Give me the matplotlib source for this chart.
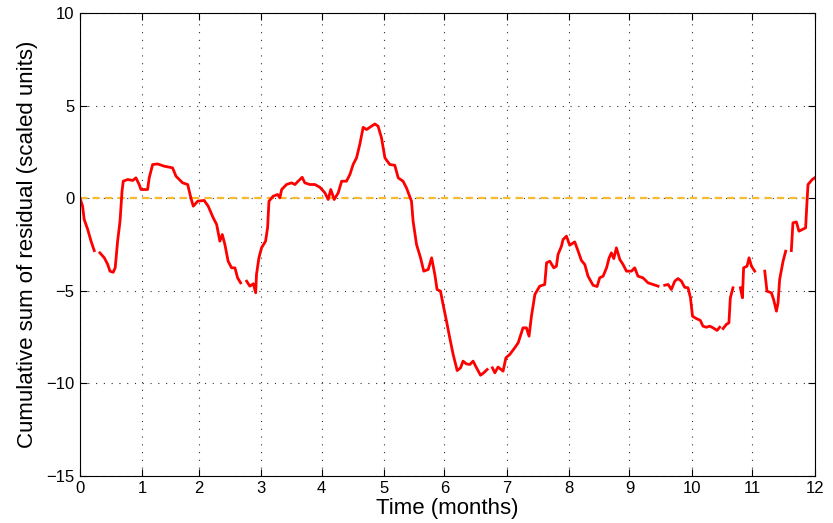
import numpy as np
import matplotlib
matplotlib.use('Agg')
import matplotlib.pyplot as plt

plt.rcParams['font.family'] = ['Liberation Sans', 'DejaVu Sans']

# month boundaries in days (tick positions), labelled 0..12
month_days = [0, 31, 59, 90, 120, 151, 181, 212, 243, 273, 304, 334, 365]
month_labels = [str(i) for i in range(13)]

# cumulative residual (day, value); nan = gap in record
days = [0.0, 1.3, 2.1, 3.8, 5.5, 7.1, 8.5, 9.9, 12.1, 13.8, 14.9, 16.5, 17.5, 18.7, 19.9,
        20.9, 21.5, 23.7, 26.2, 27.8, 29.4, 30.3, 33.6, 34.4, 36.1, 38.6, 41.9, 46.0, 47.7,
        51.0, 53.5, 55.1, 56.3, 58.5, 61.7, 63.7, 66.2, 67.9, 69.5, 70.7, 72.0, 73.6, 75.3,
        77.0, 78.3, 79.8, 81.5, 82.8, 84.4, 86.1, 87.3, 87.7, 88.9, 90.2, 92.2, 93.2, 93.9,
        96.0, 98.2, 99.3, 100.2, 102.6, 105.1, 106.8, 108.4, 110.4, 111.7, 114.2, 116.7,
        119.2, 121.7, 123.3, 124.6, 126.3, 128.3, 130.0, 132.4, 134.1, 135.7, 137.4, 139.0,
        140.7, 142.4, 144.0, 146.5, 148.1, 149.8, 151.5, 153.9, 156.4, 158.1, 160.5, 162.2,
        164.7, 165.5, 167.2, 169.2, 170.8, 173.0, 174.7, 176.3, 177.4, 179.1, 180.4, 182.1,
        183.7, 185.4, 187.4, 189.1, 190.3, 192.0, 193.7, 195.3, 197.0, 199.0, 200.6, 202.3,
        203.5, 204.9, 206.1, 207.7, 210.2, 211.6, 213.5, 216.0, 217.7, 220.1, 221.8, 223.1,
        224.3, 226.0, 228.4, 230.9, 231.8, 233.4, 235.4, 236.7, 237.5, 239.2, 240.0, 241.7,
        243.3, 245.8, 247.5, 249.1, 250.8, 252.4, 254.9, 256.9, 258.2, 259.9, 261.6, 262.9,
        264.0, 265.2, 266.5, 268.2, 269.8, 271.5, 274.0, 275.6, 277.2, 279.7, 282.2, 284.7,
        287.2, 289.0, 290.5, 292.2, 293.8, 295.5, 297.1, 298.8, 300.4, 302.1, 303.3, 304.3,
        306.2, 308.2, 309.5, 311.2, 312.9, 314.5, 316.5, 317.8, 318.5, 319.5, 321.1, 322.4,
        323.1, 324.4, 326.0, 328.1, 329.1, 329.7, 331.4, 332.4, 333.6, 335.2, 337.5, 340.2,
        341.3, 343.5, 344.6, 346.0, 346.8, 347.6, 349.3, 350.6, 352.0, 353.4, 354.2, 355.9,
        357.2, 358.9, 360.5, 361.2, 361.7, 363.8, 365.0]
cusum = [0.0, -0.43, -1.15, -1.67, -2.32, -2.83, np.nan, -2.95, -3.22, -3.58, -3.94, -4.0,
         -3.76, -2.32, -1.24, 0.38, 0.92, 1.01, 0.96, 1.1, 0.74, 0.47, 0.47, 1.1, 1.82, 1.85,
         1.73, 1.64, 1.19, 0.83, 0.74, 0.02, -0.43, -0.16, -0.12, -0.43, -1.06, -1.42, -2.32,
         -1.96, -2.5, -3.4, -3.76, -3.76, -4.3, -4.57, np.nan, -4.48, -4.75, -4.62, -5.11,
         -4.12, -3.22, -2.68, -2.32, -1.6, -0.16, 0.11, 0.2, 0.02, 0.47, 0.74, 0.83, 0.74,
         0.92, 1.13, 0.83, 0.74, 0.74, 0.59, 0.29, -0.07, 0.47, -0.07, 0.29, 0.92, 0.92, 1.28,
         1.82, 2.18, 2.9, 3.83, 3.71, 3.83, 4.01, 3.89, 3.26, 2.18, 1.82, 1.78, 1.1, 0.92,
         0.56, -0.16, -1.24, -2.5, -3.22, -3.94, -3.85, -3.22, -4.12, -4.93, -5.02, -5.74,
         -6.64, -7.54, -8.44, -9.31, -9.16, -8.8, -8.95, -8.98, -8.8, -9.16, -9.56, -9.43,
         -9.25, np.nan, -9.16, -9.43, -9.12, -9.34, -8.62, -8.44, -8.08, -7.81, -7.0, -7.0,
         -7.45, -6.37, -5.2, -4.75, -4.66, -3.49, -3.4, -3.76, -3.67, -3.04, -2.59, -2.23,
         -2.05, -2.54, -2.36, -2.86, -3.36, -3.58, -4.21, -4.7, -4.77, -4.3, -4.21, -3.76,
         -3.22, -2.95, -3.26, -2.68, -3.31, -3.58, -3.94, -3.94, -3.76, -4.21, -4.3, -4.57,
         -4.66, -4.75, np.nan, -4.7, -4.66, -4.93, -4.48, -4.34, -4.48, -4.81, -4.84, -5.38,
         -6.37, -6.5, -6.6, -6.91, -6.97, -6.91, -7.0, -7.14, -6.97, np.nan, -7.04, -6.82,
         -6.73, -5.38, -4.84, np.nan, -4.84, -5.38, -3.76, -3.67, -3.22, -3.67, -3.94, np.nan,
         -3.94, -5.02, -5.11, -5.47, -6.1, -5.65, -4.39, -3.4, -2.86, np.nan, -2.83, -1.33,
         -1.28, -1.78, -1.69, -1.6, -0.16, 0.74, 1.01, 1.1]

ref_days = [0, 360]
ref_vals = [0, 0]

fig = plt.figure(figsize=(8.33, 5.23), dpi=100)
ax = fig.add_axes([0.096, 0.09, 0.882, 0.885])

ax.plot(ref_days, ref_vals, '--', color='#f7bb30', linewidth=1.6, dashes=(3.3, 2.3))
ax.plot(days, cusum, color='red', linewidth=2.0)

ax.set_xlim(0, 365)
ax.set_ylim(-15, 10)
ax.set_xticks(month_days)
ax.set_xticklabels(month_labels)
ax.set_yticks([-15, -10, -5, 0, 5, 10])
ax.grid(True, linestyle=(0, (1, 6)), color='#333333', linewidth=0.8)
ax.tick_params(direction='in', top=True, right=True, labelsize=12, length=5, pad=4)
for s in ax.spines.values():
    s.set_linewidth(0.8)

ax.set_xlabel('Time (months)', fontsize=16, labelpad=1)
ax.set_ylabel('Cumulative sum of residual (scaled units)', fontsize=16, labelpad=6)

fig.savefig('out.png', dpi=100)
